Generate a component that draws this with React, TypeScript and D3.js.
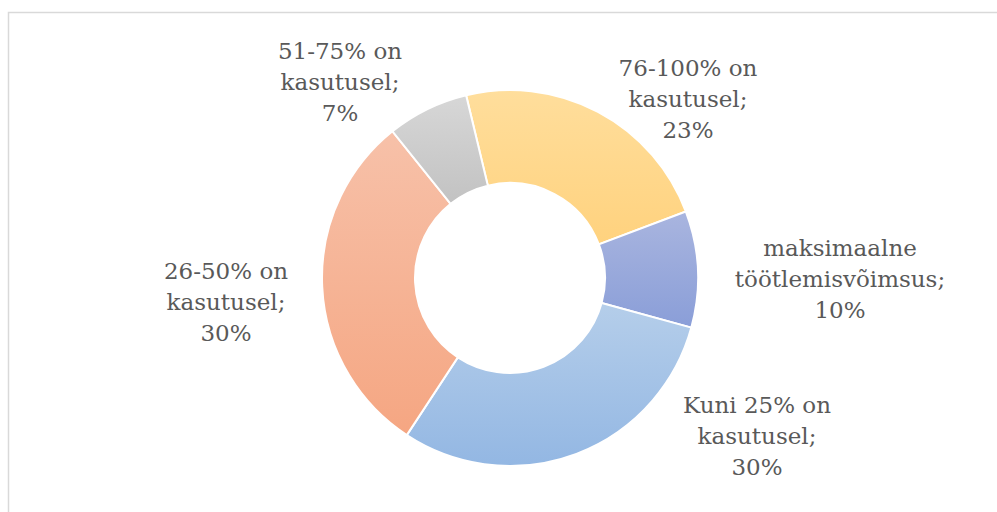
import React, { useEffect, useRef } from "react";
import * as d3 from "d3";

const labels = [
  ["76-100% on", "kasutusel;", "23%"],
  ["maksimaalne", "töötlemisvõimsus;", "10%"],
  ["Kuni 25% on", "kasutusel;", "30%"],
  ["26-50% on", "kasutusel;", "30%"],
  ["51-75% on", "kasutusel;", "7%"],
];
const values = [23, 10, 30, 30, 7];
const colorsTop = ["#FFDE9C", "#A9B5DF", "#B5CEEA", "#F7C1A9", "#D7D7D7"];
const colorsBottom = ["#FFD27E", "#8A9ED8", "#93B7E3", "#F5A682", "#C2C2C2"];
// label centre positions (first line baseline)
const labelPos = [
  [688, 76],
  [840, 256],
  [757, 413],
  [226, 279],
  [340, 59],
];

const App: React.FC = () => {
  const ref = useRef<SVGSVGElement>(null);

  useEffect(() => {
    if (!ref.current) return;
    const svg = d3.select(ref.current);
    svg.selectAll("*").remove();

    const cx = 510;
    const cy = 278;
    const outer = 188;
    const inner = 95;

    // chart frame
    svg
      .append("rect")
      .attr("x", 8.5)
      .attr("y", 12.5)
      .attr("width", 1000)
      .attr("height", 520)
      .attr("fill", "#fff")
      .attr("stroke", "#D9D9D9")
      .attr("stroke-width", 1.5);

    const defs = svg.append("defs");
    values.forEach((_, i) => {
      const g = defs
        .append("linearGradient")
        .attr("id", `grad${i}`)
        .attr("x1", 0)
        .attr("y1", 0)
        .attr("x2", 0)
        .attr("y2", 1);
      g.append("stop").attr("offset", "0%").attr("stop-color", colorsTop[i]);
      g.append("stop").attr("offset", "100%").attr("stop-color", colorsBottom[i]);
    });

    const start = (-13.5 * Math.PI) / 180;
    const pie = d3
      .pie<number>()
      .sort(null)
      .value((d) => d)
      .startAngle(start)
      .endAngle(start + 2 * Math.PI);

    const arc = d3
      .arc<d3.PieArcDatum<number>>()
      .innerRadius(inner)
      .outerRadius(outer);

    const g = svg.append("g").attr("transform", `translate(${cx},${cy})`);
    g.selectAll("path")
      .data(pie(values))
      .enter()
      .append("path")
      .attr("d", arc)
      .attr("fill", (_, i) => `url(#grad${i})`)
      .attr("stroke", "#fff")
      .attr("stroke-width", 2);

    // data labels
    labels.forEach((lines, i) => {
      const t = svg
        .append("text")
        .attr("text-anchor", "middle")
        .style("font-family", "'DejaVu Serif', serif")
        .style("font-size", "23px")
        .style("fill", "#595959");
      lines.forEach((line, j) => {
        t.append("tspan")
          .attr("x", labelPos[i][0])
          .attr("y", labelPos[i][1] + j * 31)
          .text(line);
      });
    });
  }, []);

  return (
    <svg
      ref={ref}
      width={997}
      height={512}
      style={{ position: "absolute", left: 0, top: 0 }}
    />
  );
};

export default App;
